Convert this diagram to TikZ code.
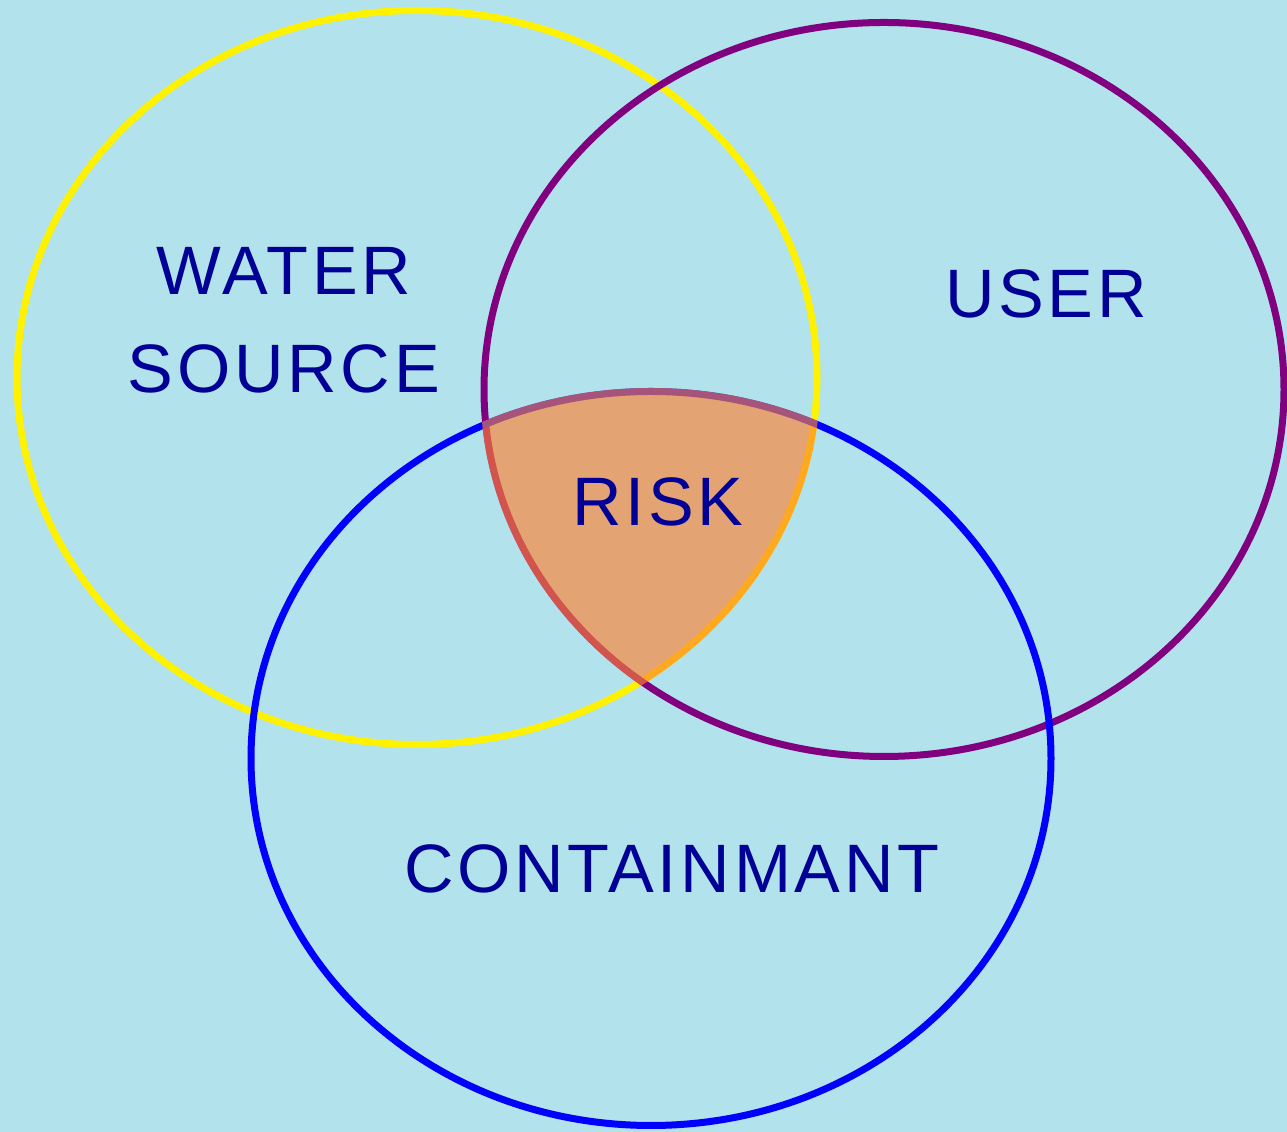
\documentclass[tikz,border=0pt]{standalone}
\usepackage{fontspec}
\setmainfont[LetterSpace=5.5]{Liberation Sans}
\usepackage{tikz}
\usetikzlibrary{shapes.geometric}
\definecolor{pool}{RGB}{178,226,235}
\definecolor{ink}{RGB}{0,0,150}
\definecolor{riskfill}{RGB}{255,130,50}
\definecolor{plum}{RGB}{128,0,128}

\begin{document}
\begin{tikzpicture}
      \tikzstyle{ring} = [ellipse, line width=0.14cm, inner sep=0pt, minimum width=16cm, minimum height=14.68cm]
      \tikzstyle{word} = [text=ink, font=\fontsize{39}{56}\selectfont, align=center]
      \fill[pool] (0,0) rectangle (25.74,22.64);
      \useasboundingbox (0,0) rectangle (25.74,22.64);
      \node[ring, draw=yellow] (src) at (8.34,15.09) {};
      \node[ring, draw=plum] (usr) at (17.68,14.85) {};
      \node[ring, draw=blue] (con) at (13.02,7.47) {};
      \begin{scope}
        \clip (src.center) ellipse [x radius=8.07cm, y radius=7.41cm];
        \clip (usr.center) ellipse [x radius=8.07cm, y radius=7.41cm];
        \fill[riskfill, opacity=0.65]
        (con.center) ellipse [x radius=8.07cm, y radius=7.41cm];
      \end{scope}
      \node[word] (ws) at (5.68,16.24) {WATER\\SOURCE};
      \node[word] (us) at (20.92,16.76) {USER};
      \node[word] (rk) at (13.16,12.60) {RISK};
      \node[word] (ct) at (13.44,5.26) {CONTAINMANT};
    \end{tikzpicture}
\end{document}
